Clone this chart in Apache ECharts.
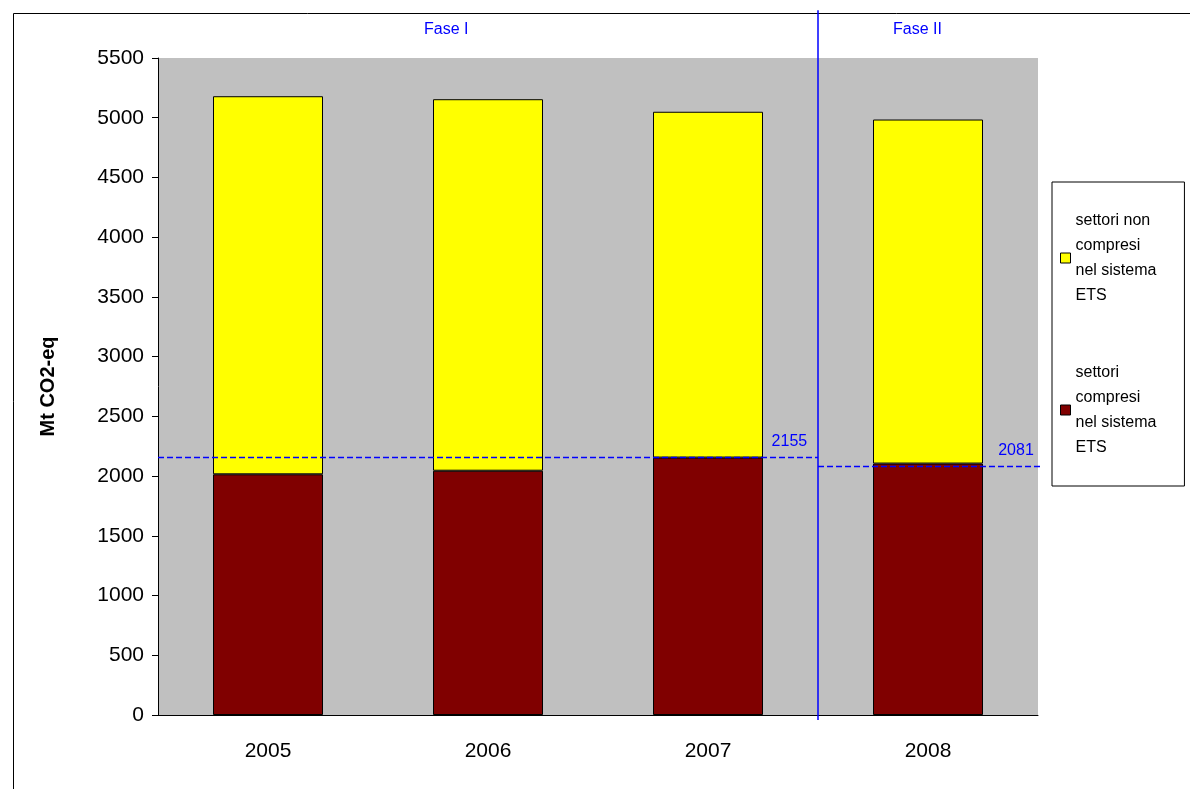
<!DOCTYPE html>
<html><head><meta charset="utf-8">
<script src="https://cdn.jsdelivr.net/npm/echarts@6/dist/echarts.min.js"></script>
<style>html,body{margin:0;padding:0;background:#fff}#main{width:1190px;height:789px}</style>
</head><body><div id="main"></div>
<script>
var years = ['2005', '2006', '2007', '2008'];
var etsValues = [2015, 2045, 2155, 2105];
var nonEtsValues = [3165, 3110, 2895, 2880];
var yTicks = [0, 500, 1000, 1500, 2000, 2500, 3000, 3500, 4000, 4500, 5000, 5500];
var capFase1 = 2155;
var capFase2 = 2081;

var myChart = echarts.init(document.getElementById('main'));
var font = 'Arial, "Liberation Sans", sans-serif';
var capLabel = {show: true, color: '#0000ff', fontSize: 16, position: 'top', distance: 8};
var option = {
    animation: false,
    textStyle: {fontFamily: font},
    grid: {left: 158, right: 152, top: 58, bottom: 74, show: true, backgroundColor: '#c0c0c0', borderWidth: 0},
    legend: {
        orient: 'vertical', left: 1052, top: 182,
        padding: [26, 28, 26, 8], itemGap: 52, itemWidth: 10, itemHeight: 10,
        backgroundColor: '#fff', borderColor: '#000', borderWidth: 1,
        icon: 'rect',
        itemStyle: {borderColor: '#000', borderWidth: 1},
        textStyle: {fontSize: 16, lineHeight: 25, color: '#000', fontFamily: font},
        formatter: function (n) { return n.replace(' compresi nel sistema ETS', '\ncompresi\nnel sistema\nETS'); },
        data: ['settori non compresi nel sistema ETS', 'settori compresi nel sistema ETS']
    },
    xAxis: [{
        type: 'category', data: years,
        axisLine: {lineStyle: {color: '#000'}},
        axisTick: {length: 6, lineStyle: {color: '#000'}},
        axisLabel: {fontSize: 21, color: '#000', margin: 26}
    }, {
        type: 'value', min: 0, max: 4, show: false
    }],
    yAxis: {
        type: 'value', min: 0, max: 5500, interval: 500,
        name: 'Mt CO2-eq', nameLocation: 'middle', nameGap: 100, nameRotate: 90,
        nameTextStyle: {fontSize: 20, fontWeight: 'bold', color: '#000'},
        axisLine: {show: true, lineStyle: {color: '#000'}},
        axisTick: {show: true, length: 6, lineStyle: {color: '#000'}},
        axisLabel: {fontSize: 21, color: '#000', margin: 14, formatter: function (v) { return yTicks.indexOf(v) >= 0 ? v : ''; }},
        splitLine: {show: false}
    },
    series: [{
        name: 'settori compresi nel sistema ETS', type: 'bar', stack: 't', barWidth: '50%',
        data: etsValues, itemStyle: {color: '#800000', borderColor: '#000', borderWidth: 1}
    }, {
        name: 'settori non compresi nel sistema ETS', type: 'bar', stack: 't', barWidth: '50%',
        data: nonEtsValues, itemStyle: {color: '#ffff00', borderColor: '#000', borderWidth: 1}
    }, {
        type: 'line', xAxisIndex: 1, symbol: 'circle', symbolSize: 0, showSymbol: true, clip: false, z: 5,
        lineStyle: {color: '#0000ff', type: 'dashed', width: 1.5},
        data: [{value: [0, capFase1]}, {value: [2.87, capFase1], label: capLabel}, {value: [3, capFase1]}]
    }, {
        type: 'line', xAxisIndex: 1, symbol: 'circle', symbolSize: 0, showSymbol: true, clip: false, z: 5,
        lineStyle: {color: '#0000ff', type: 'dashed', width: 1.5},
        data: [{value: [3, capFase2]}, {value: [3.9, capFase2], label: capLabel}, {value: [4.03, capFase2]}]
    }, {
        type: 'line', xAxisIndex: 1, symbol: 'none', clip: false, z: 6,
        lineStyle: {color: '#0000ff', width: 1.5},
        data: [[3, -42], [3, 5900]]
    }],
    graphic: [
        {type: 'rect', left: 11, top: 11, shape: {width: 1177, height: 790}, style: {fill: 'none', stroke: '#000', lineWidth: 1}, silent: true},
        {type: 'text', left: 424, top: 22, style: {text: 'Fase I', fill: '#0000ff', fontSize: 16, fontFamily: font}},
        {type: 'text', left: 893, top: 22, style: {text: 'Fase II', fill: '#0000ff', fontSize: 16, fontFamily: font}}
    ]
};
myChart.setOption(option);
</script>
</body></html>
